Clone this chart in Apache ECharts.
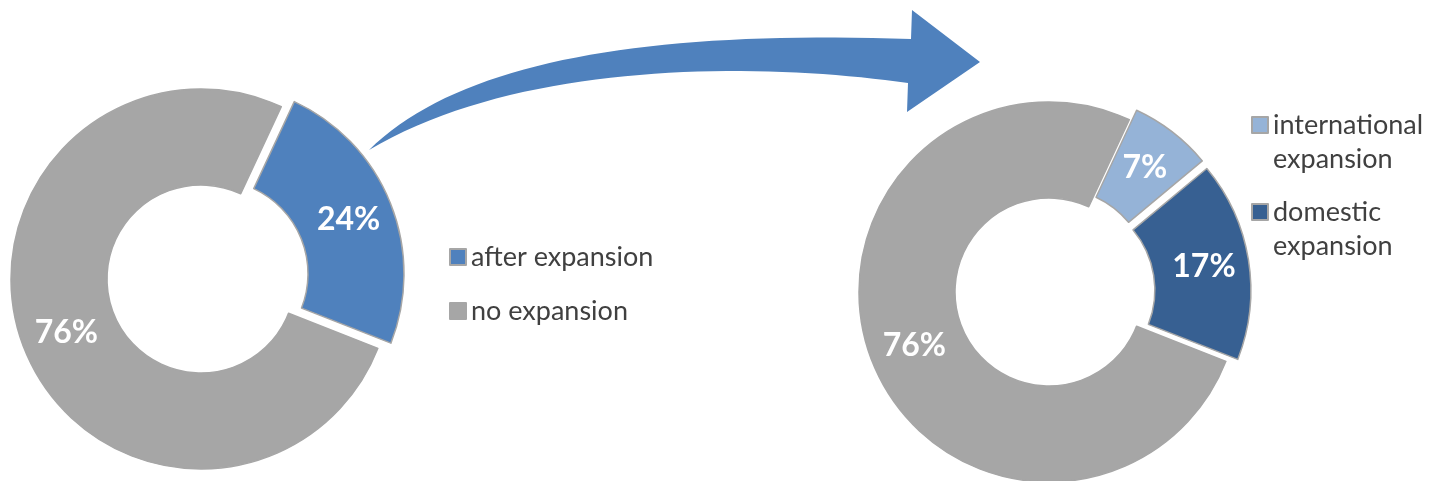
<!DOCTYPE html>
<html>
<head>
    <meta charset="utf-8">
    <script src="https://cdn.jsdelivr.net/npm/echarts@6/dist/echarts.min.js"></script>
    <style>
        html, body { margin: 0; padding: 0; background: #fff; }
    </style>
</head>
<body>
    <div id="main" style="width: 1435px;height:481px;"></div>
    <script type="text/javascript">
        // data
        var beforeNames = ['after expansion', 'no expansion'];
        var beforeValues = [24, 76];
        var afterNames = ['international expansion', 'domestic expansion', 'no expansion'];
        var afterValues = [7, 17, 76];

        var colors = {
            'after expansion': '#4f81bd',
            'international expansion': '#95b3d7',
            'domestic expansion': '#376092',
            'no expansion': '#a6a6a6'
        };

        var chart = echarts.init(document.getElementById('main'));

        function pieData(names, values) {
            return names.map(function (n, i) {
                return {
                    name: n,
                    value: values[i],
                    selected: n !== 'no expansion',
                    itemStyle: { color: colors[n] }
                };
            });
        }

        // curved arrow between the two donuts (decoration only)
        function cubic(p0, p1, p2, p3, n) {
            var pts = [];
            for (var i = 0; i <= n; i++) {
                var t = i / n, u = 1 - t;
                pts.push([
                    u * u * u * p0[0] + 3 * u * u * t * p1[0] + 3 * u * t * t * p2[0] + t * t * t * p3[0],
                    u * u * u * p0[1] + 3 * u * u * t * p1[1] + 3 * u * t * t * p2[1] + t * t * t * p3[1]
                ]);
            }
            return pts;
        }
        var arrowPts = cubic([369, 150], [460, 60], [650, 30], [911, 39], 40)
            .concat([[912, 10], [980, 62], [907, 112]])
            .concat(cubic([908, 83], [760, 62], [520, 60], [369, 150], 40));

        var labelStyle = {
            show: true,
            position: 'inside',
            color: '#fff',
            fontFamily: 'Lato',
            fontWeight: 'bold',
            fontSize: 32,
            formatter: function (p) { return p.value + '%'; }
        };
        var itemStyle = { borderColor: '#a6a6a6', borderWidth: 1.5 };

        chart.setOption({
            animation: false,
            legend: [
                {
                    data: beforeNames,
                    orient: 'vertical',
                    left: 444,
                    top: 237,
                    icon: 'rect',
                    itemWidth: 16,
                    itemHeight: 16,
                    itemGap: 24,
                    selectedMode: false,
                    textStyle: { fontFamily: 'Lato', fontSize: 27, color: '#404040', lineHeight: 30 }
                },
                {
                    data: ['international expansion', 'domestic expansion'],
                    orient: 'vertical',
                    left: 1246,
                    top: 69,
                    icon: 'rect',
                    itemWidth: 16,
                    itemHeight: 16,
                    itemGap: -15,
                    selectedMode: false,
                    // blank first line keeps the square level with the first text line
                    formatter: function (name) { return ' \n' + name.replace(' ', '\n'); },
                    textStyle: {
                        fontFamily: 'Lato', fontSize: 27, color: '#404040', lineHeight: 34
                    }
                }
            ],
            graphic: [
                {
                    type: 'polygon',
                    shape: { points: arrowPts },
                    style: { fill: '#4f81bd' },
                    silent: true
                }
            ],
            series: [
                {
                    name: 'before',
                    type: 'pie',
                    center: [201, 279],
                    radius: [94, 190],
                    startAngle: 65,
                    selectedMode: 'multiple',
                    selectedOffset: 14,
                    label: labelStyle,
                    labelLine: { show: false },
                    itemStyle: itemStyle,
                    emphasis: { disabled: true },
                    data: pieData(beforeNames, beforeValues)
                },
                {
                    name: 'after',
                    type: 'pie',
                    center: [1049, 292],
                    radius: [94, 190],
                    startAngle: 65,
                    selectedMode: 'multiple',
                    selectedOffset: 12,
                    label: labelStyle,
                    labelLine: { show: false },
                    itemStyle: itemStyle,
                    emphasis: { disabled: true },
                    data: pieData(afterNames, afterValues)
                }
            ]
        });
    </script>
</body>
</html>
